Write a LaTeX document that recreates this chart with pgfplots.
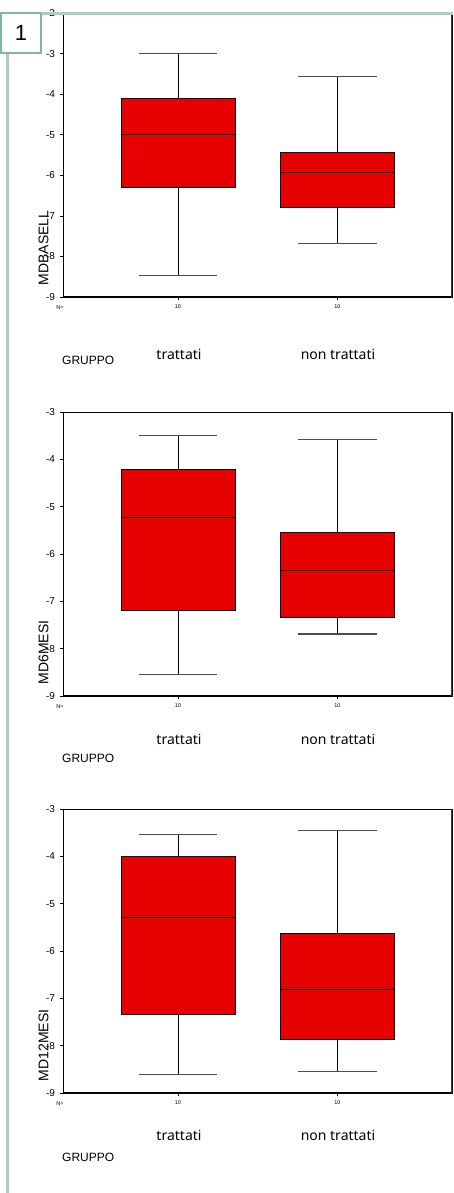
\documentclass[border=0pt]{standalone}
\usepackage{fontspec}
\setmainfont{Liberation Sans}
\newfontfamily\labfont{Noto Sans}
\usepackage{pgfplots}
\pgfplotsset{compat=1.18}
\definecolor{boxred}{RGB}{230,0,0}
\definecolor{gline}{RGB}{168,208,188}
\definecolor{gbox}{RGB}{128,184,152}
\pgfplotsset{
  mdaxis/.style={
    scale only axis, width=389pt, height=284pt,
    anchor=south west,
    xmin=0.279, xmax=2.718, ymin=-9,
    xtick={1,2}, xticklabels={10,10},
    tick pos=left, tick align=outside,
    major tick length=3.5pt,
    tick style={black, line width=0.6pt},
    axis line style={black, line width=0.8pt},
    yticklabel style={font=\fontsize{10}{11}\selectfont, xshift=-1pt},
    xticklabel style={font=\fontsize{5.5}{6}\selectfont, yshift=-1pt},
    /pgf/number format/assume math mode=true,
  },
  wl/.style={black, line width=0.8pt, mark=none, solid},
  cap/.style={black!70, line width=1.1pt, mark=none, solid},
  bx/.style={fill=boxred, draw=black, line width=0.9pt, mark=none, solid},
}
% #1 lower whisker, #2 lower quartile, #3 median, #4 upper quartile, #5 upper whisker
\newcommand{\boxA}[5]{%
  \addplot[wl] coordinates {(1,#1) (1,#2)};
  \addplot[wl] coordinates {(1,#4) (1,#5)};
  \addplot[cap] coordinates {(0.755,#1) (1.245,#1)};
  \addplot[cap] coordinates {(0.755,#5) (1.245,#5)};
  \addplot[bx] coordinates {(0.6425,#2) (1.3575,#2) (1.3575,#4) (0.6425,#4)} --cycle;
  \addplot[wl] coordinates {(0.6425,#3) (1.3575,#3)};
}
\newcommand{\boxB}[5]{%
  \addplot[wl] coordinates {(2,#1) (2,#2)};
  \addplot[wl] coordinates {(2,#4) (2,#5)};
  \addplot[cap] coordinates {(1.755,#1) (2.245,#1)};
  \addplot[cap] coordinates {(1.755,#5) (2.245,#5)};
  \addplot[bx] coordinates {(1.6425,#2) (2.3575,#2) (2.3575,#4) (1.6425,#4)} --cycle;
  \addplot[wl] coordinates {(1.6425,#3) (2.3575,#3)};
}
\newcommand{\frameaxis}{%
  \draw[black, line width=1.6pt] (rel axis cs:0,1) -- (rel axis cs:0,0) -- (rel axis cs:1,0);
  \draw[black!75, line width=1.2pt] (rel axis cs:1,0) -- (rel axis cs:1,1);
}
\begin{document}
\begin{tikzpicture}
\path[use as bounding box] (0pt,0pt) rectangle (453pt,1193pt);

% Panel 1: MDBASELL
\begin{axis}[mdaxis, at={(63pt,896pt)}, ymax=-2, ytick={-9,-8,-7,-6,-5,-4,-3,-2}]
\boxA{-8.48}{-6.31}{-5.0}{-4.11}{-3.0}
\boxB{-7.68}{-6.79}{-5.93}{-5.43}{-3.57}
\frameaxis
\end{axis}

% Panel 2: MD6MESI
\begin{axis}[mdaxis, at={(63pt,497pt)}, ymax=-3, ytick={-9,-8,-7,-6,-5,-4,-3}]
\boxA{-8.54}{-7.2}{-5.23}{-4.22}{-3.49}
\boxB{-7.69}{-7.35}{-6.34}{-5.54}{-3.58}
\frameaxis
\end{axis}

% Panel 3: MD12MESI
\begin{axis}[mdaxis, at={(63pt,100pt)}, ymax=-3, ytick={-9,-8,-7,-6,-5,-4,-3}]
\boxA{-8.6}{-7.35}{-5.29}{-4.0}{-3.53}
\boxB{-8.54}{-7.87}{-6.82}{-5.62}{-3.46}
\frameaxis
\end{axis}

% labels
\foreach \B/\T/\G/\lab in {896/833/828/MDBASELL, 497/448/430/MD6MESI, 100/52/31/MD12MESI}{
  \node[rotate=90, anchor=west, inner sep=0pt, font=\fontsize{14}{16}\selectfont] at (43.5pt,\B pt+11.5pt) {\lab};
  \node[anchor=center, inner sep=0pt, font=\fontsize{5.5}{6}\selectfont] at (60pt,\B pt-11pt) {N=};
  \node[anchor=base, inner sep=0pt, font=\labfont\fontsize{14}{16}\selectfont] at (179pt,\T pt) {trattati};
  \node[anchor=base, inner sep=0pt, font=\labfont\fontsize{14}{16}\selectfont] at (338pt,\T pt) {non trattati};
  \node[anchor=base west, inner sep=0pt, font=\fontsize{12}{14}\selectfont] at (62pt,\G pt) {GRUPPO};
}

% green frame
\draw[gline, line width=2.5pt] (41pt,1179.3pt) -- (453pt,1179.3pt);
\draw[gline, line width=2.5pt] (7.5pt,0pt) -- (7.5pt,1140pt);
\draw[gbox, line width=2pt] (1pt,1140pt) rectangle (41pt,1180pt);
\node[font=\fontsize{22}{24}\selectfont] at (21pt,1160pt) {1};
\end{tikzpicture}
\end{document}
